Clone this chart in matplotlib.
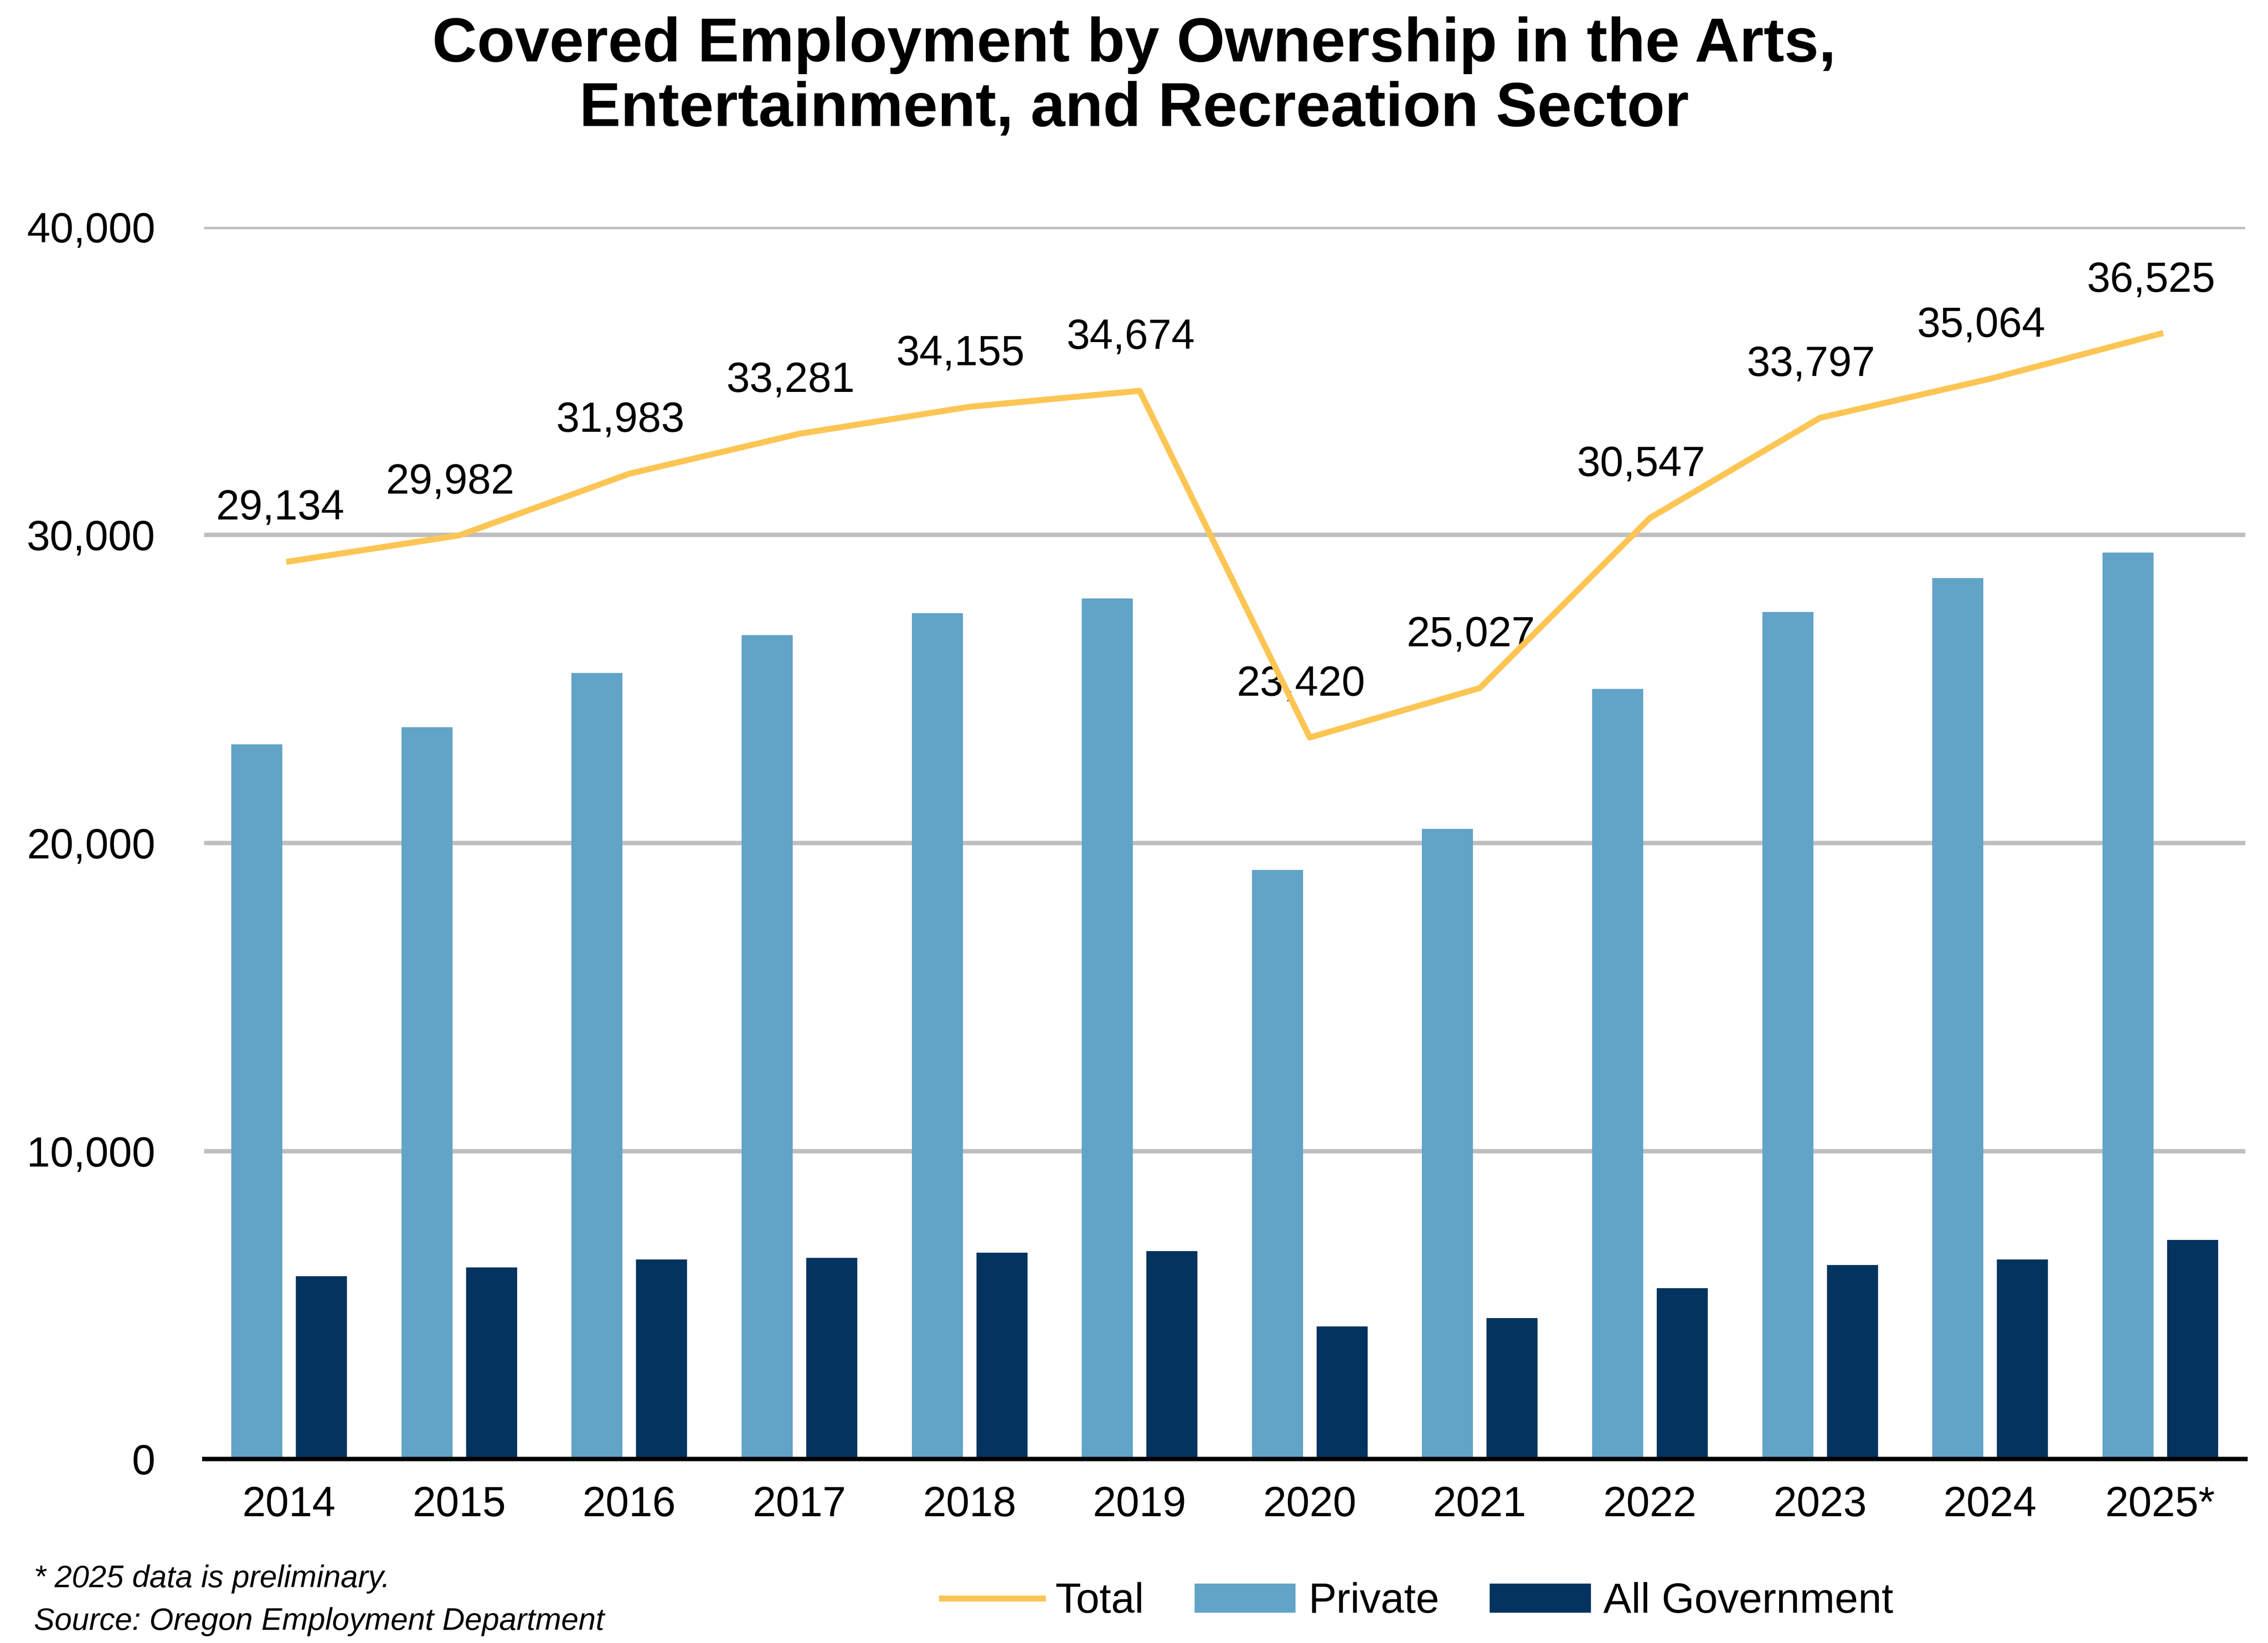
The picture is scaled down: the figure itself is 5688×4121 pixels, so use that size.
"""Covered employment by ownership, arts/entertainment/recreation sector."""

import matplotlib

matplotlib.use("Agg")

import matplotlib.pyplot as plt
import numpy as np

years = ["2014", "2015", "2016", "2017", "2018", "2019", "2020", "2021", "2022", "2023", "2024", "2025*"]
total = [29134, 29982, 31983, 33281, 34155, 34674, 23420, 25027, 30547, 33797, 35064, 36525]
private = [23200, 23760, 25510, 26750, 27460, 27930, 19120, 20450, 25000, 27500, 28590, 29420]
government = [t - p for t, p in zip(total, private)]

plt.rcParams.update({"font.family": ["Liberation Sans", "DejaVu Sans"], "font.size": 19})

fig = plt.figure(figsize=(14.22, 10.3025), dpi=400)
ax = fig.add_axes([0.09, 0.112, 0.9, 0.75])

x = np.arange(len(years))
w = 0.30
ax.bar(x - 0.19, private, w, color="#62A3C8", label="Private", zorder=3)
ax.bar(x + 0.19, government, w, color="#03345F", label="All Government", zorder=3)
ax.plot(x, total, color="#FCC554", linewidth=2.7, label="Total", zorder=4)
for xi, v in zip(x, total):
    ax.annotate(f"{v:,}", (xi, v), xytext=(-4, 15), textcoords="offset points",
                ha="center", va="bottom", fontsize=19)

ax.set_xlim(-0.5, len(years) - 0.5)
ax.set_ylim(0, 40000)
ax.set_yticks(range(0, 40001, 10000))
ax.yaxis.set_major_formatter(matplotlib.ticker.FuncFormatter(lambda v, p: f"{int(v):,}"))
ax.set_xticks(x)
ax.set_xticklabels(years)
ax.tick_params(length=0, labelsize=19)
ax.tick_params(axis="x", pad=12)
ax.tick_params(axis="y", pad=22)
ax.grid(axis="y", color="#BFBFBF", linewidth=2, zorder=0)
for s in ["top", "right", "left"]:
    ax.spines[s].set_visible(False)
ax.spines["bottom"].set_linewidth(2)
ax.spines["bottom"].set_zorder(5)

fig.suptitle("Covered Employment by Ownership in the Arts,\nEntertainment, and Recreation Sector",
             x=0.5, y=0.99, fontsize=28, fontweight="bold", linespacing=1.15)
fig.legend(loc="center", bbox_to_anchor=(0.625, 0.025), ncol=3, frameon=False,
           fontsize=19, handlelength=2.4, columnspacing=1.2, handletextpad=0.3)
fig.text(0.015, 0.039, "* 2025 data is preliminary.", fontsize=14, style="italic", va="center")
fig.text(0.015, 0.013, "Source: Oregon Employment Department", fontsize=14, style="italic", va="center")

fig.savefig("out.png", dpi=400, facecolor="white")
